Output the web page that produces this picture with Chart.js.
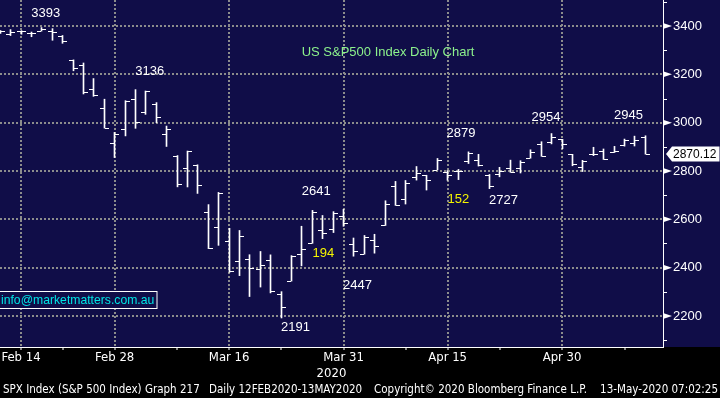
<!DOCTYPE html>
<html>
<head>
<meta charset="utf-8">
<script src="https://cdn.jsdelivr.net/npm/chart.js@4.4.1/dist/chart.umd.min.js"></script>
<style>
  html, body { margin: 0; padding: 0; background: #000; }
</style>
</head>
<body>
<canvas id="spxChart" width="720" height="398"></canvas>
<script>
// SPX daily bars, 12 Feb - 12 May 2020
const dates = [
  "Feb 12", "Feb 13", "Feb 14", "Feb 18", "Feb 19", "Feb 20", "Feb 21", "Feb 24", "Feb 25", "Feb 26", "Feb 27", "Feb 28",
  "Mar 2", "Mar 3", "Mar 4", "Mar 5", "Mar 6", "Mar 9", "Mar 10", "Mar 11", "Mar 12", "Mar 13", "Mar 16", "Mar 17",
  "Mar 18", "Mar 19", "Mar 20", "Mar 23", "Mar 24", "Mar 25", "Mar 26", "Mar 27", "Mar 30", "Mar 31",
  "Apr 1", "Apr 2", "Apr 3", "Apr 6", "Apr 7", "Apr 8", "Apr 9", "Apr 13", "Apr 14", "Apr 15", "Apr 16", "Apr 17",
  "Apr 20", "Apr 21", "Apr 22", "Apr 23", "Apr 24", "Apr 27", "Apr 28", "Apr 29", "Apr 30",
  "May 1", "May 4", "May 5", "May 6", "May 7", "May 8", "May 11", "May 12"
];
const opens = [
  3370.50, 3365.90, 3378.08, 3369.04, 3380.39, 3380.45, 3360.50, 3257.61, 3238.94, 3139.90, 3062.54, 2916.90,
  2974.28, 3096.46, 3045.75, 3075.70, 2954.20, 2863.89, 2813.48, 2825.60, 2630.86, 2569.99, 2508.59, 2425.66,
  2436.50, 2393.48, 2431.94, 2290.71, 2344.44, 2457.77, 2501.29, 2555.87, 2558.98, 2614.69,
  2498.08, 2458.54, 2514.92, 2578.28, 2738.65, 2685.00, 2776.99, 2782.46, 2805.10, 2795.64, 2799.34, 2842.43,
  2845.62, 2784.81, 2787.89, 2810.42, 2812.64, 2854.65, 2909.96, 2918.46, 2930.91,
  2869.09, 2815.01, 2868.88, 2883.14, 2878.26, 2908.83, 2915.46, 2939.50
];
const highs = [
  3381.47, 3385.09, 3380.69, 3375.01, 3393.52, 3389.15, 3360.76, 3259.81, 3246.99, 3182.51, 3097.07, 2959.72,
  3090.96, 3136.72, 3130.97, 3083.04, 2985.93, 2863.89, 2882.59, 2825.60, 2660.95, 2711.33, 2562.98, 2553.93,
  2453.57, 2466.97, 2453.01, 2300.73, 2449.71, 2571.42, 2637.01, 2615.91, 2631.80, 2641.39,
  2522.75, 2533.22, 2538.18, 2676.85, 2756.89, 2760.75, 2818.57, 2782.46, 2851.85, 2801.88, 2806.51, 2879.22,
  2868.98, 2785.54, 2815.10, 2844.90, 2842.71, 2887.72, 2921.15, 2954.86, 2930.91,
  2869.09, 2844.24, 2898.23, 2891.11, 2901.92, 2932.16, 2944.25, 2945.82
];
const lows = [
  3369.72, 3360.52, 3366.15, 3355.61, 3378.83, 3341.02, 3328.45, 3214.65, 3118.77, 3108.99, 2977.39, 2855.84,
  2945.19, 2976.63, 3034.38, 2999.83, 2901.54, 2734.43, 2734.00, 2707.22, 2478.86, 2492.37, 2380.94, 2367.04,
  2280.52, 2319.78, 2295.56, 2191.86, 2344.44, 2407.53, 2500.72, 2520.02, 2545.28, 2571.15,
  2447.49, 2455.79, 2459.96, 2574.57, 2657.67, 2663.30, 2762.36, 2721.17, 2805.10, 2761.54, 2764.32, 2830.88,
  2820.43, 2727.10, 2775.95, 2794.26, 2791.76, 2852.89, 2860.71, 2912.16, 2892.47,
  2821.61, 2797.85, 2863.55, 2847.65, 2876.48, 2902.88, 2903.44, 2869.59
];
const closes = [
  3379.45, 3373.94, 3380.16, 3370.29, 3386.15, 3373.23, 3337.75, 3225.89, 3128.21, 3116.39, 2978.76, 2954.22,
  3090.23, 3003.37, 3130.12, 3023.94, 2972.37, 2746.56, 2882.23, 2741.38, 2480.64, 2711.02, 2386.13, 2529.19,
  2398.10, 2409.39, 2304.92, 2237.40, 2447.33, 2475.56, 2630.07, 2541.47, 2626.65, 2584.59,
  2470.50, 2526.90, 2488.65, 2663.68, 2659.41, 2749.98, 2789.82, 2761.63, 2846.06, 2783.36, 2799.55, 2874.56,
  2823.16, 2736.56, 2799.31, 2797.80, 2836.74, 2878.48, 2863.39, 2939.51, 2912.43,
  2830.71, 2842.74, 2868.44, 2848.42, 2881.19, 2929.80, 2930.32, 2870.12
];

// axis ticks
const yTicks = [2200, 2400, 2600, 2800, 3000, 3200, 3400];
const yMinorTicks = [2100, 2300, 2500, 2700, 2900, 3100, 3300, 3500];
const xTickIdx = [2, 6, 11, 17, 22, 27, 33, 39, 43, 48, 54, 60];
const xLabelIdx = [2, 11, 22, 33, 43, 54];

// hand-placed notes (bar index, price level)
const noteText = ["3393", "3136", "2641", "194", "2447", "2191", "152", "2879", "2727", "2954", "2945"];
const noteAt = [4.38, 14.38, 30.38, 31.06, 34.33, 28.37, 44.04, 44.28, 48.37, 52.45, 60.38];
const noteLevel = [3451, 3210, 2715, 2457, 2328, 2152, 2684, 2957, 2680, 3021, 3028];
const noteYellow = ["194", "152"];

const NAVY = "#100d48";
const GRID = "#8c8c8c";
const NUM_FONT = '13px "Liberation Sans", Arial, sans-serif';
const COND = '"DejaVu Sans Condensed", "DejaVu Sans", sans-serif';

const backdrop = {
  id: "backdrop",
  beforeDraw(chart) {
    const { ctx, width, height, chartArea } = chart;
    ctx.save();
    ctx.fillStyle = "#000";
    ctx.fillRect(0, 0, width, height);
    ctx.fillStyle = NAVY;
    ctx.fillRect(0, 0, width, chartArea.bottom);
    ctx.restore();
  }
};

// snap bars to whole pixels, then add open / close ticks
const ohlcTicks = {
  id: "ohlcTicks",
  afterDatasetsUpdate(chart) {
    chart.getDatasetMeta(0).data.forEach(el => { el.x = Math.floor(el.x) + 0.5; });
  },
  afterDatasetsDraw(chart) {
    const { ctx, chartArea, scales: { y } } = chart;
    const bars = chart.getDatasetMeta(0).data;
    ctx.save();
    ctx.beginPath();
    ctx.rect(chartArea.left, chartArea.top, chartArea.right - chartArea.left, chartArea.bottom - chartArea.top);
    ctx.clip();
    ctx.strokeStyle = "#fff";
    ctx.lineWidth = 1;
    ctx.beginPath();
    opens.forEach((o, i) => {
      const n = Math.floor(bars[i].x);
      const yo = Math.round(y.getPixelForValue(o)) + 0.5;
      const yc = Math.round(y.getPixelForValue(closes[i])) + 0.5;
      ctx.moveTo(n - 4, yo);
      ctx.lineTo(n, yo);
      ctx.moveTo(n + 1, yc);
      ctx.lineTo(n + 5, yc);
    });
    ctx.stroke();
    ctx.restore();
  }
};

const notes = {
  id: "notes",
  afterDraw(chart) {
    const { ctx, chartArea, scales: { x, y } } = chart;
    ctx.save();
    ctx.textAlign = "center";
    ctx.textBaseline = "middle";
    ctx.font = NUM_FONT;
    noteText.forEach((t, k) => {
      ctx.fillStyle = noteYellow.includes(t) ? "#f4f400" : "#fff";
      ctx.fillText(t, x.getPixelForValue(noteAt[k]), y.getPixelForValue(noteLevel[k]));
    });

    // chart title
    ctx.fillStyle = "#8cf28c";
    ctx.fillText("US S&P500 Index Daily Chart", x.getPixelForValue(37.27), y.getPixelForValue(3292));

    // email box
    ctx.fillStyle = NAVY;
    ctx.fillRect(chartArea.left - 1, 291.5, 158, 17);
    ctx.strokeStyle = "#fff";
    ctx.lineWidth = 1;
    ctx.strokeRect(chartArea.left - 1, 291.5, 158, 17);
    ctx.fillStyle = "#00e4e4";
    ctx.textAlign = "left";
    ctx.font = '12.2px "Liberation Sans", Arial, sans-serif';
    ctx.fillText("info@marketmatters.com.au", 1, 300.5);

    // right axis markers
    const ax = chartArea.right;
    ctx.fillStyle = "#fff";
    yTicks.forEach(v => {
      const py = y.getPixelForValue(v);
      ctx.beginPath();
      ctx.moveTo(ax, py - 3);
      ctx.lineTo(ax + 9, py);
      ctx.lineTo(ax, py + 3);
      ctx.closePath();
      ctx.fill();
    });
    ctx.strokeStyle = "#fff";
    ctx.beginPath();
    yMinorTicks.forEach(v => {
      const py = Math.round(y.getPixelForValue(v)) + 0.5;
      ctx.moveTo(ax, py);
      ctx.lineTo(ax + 4, py);
    });
    ctx.stroke();

    // last price tag
    const last = closes[closes.length - 1];
    const ly = y.getPixelForValue(last);
    ctx.beginPath();
    ctx.moveTo(ax + 3, ly);
    ctx.lineTo(ax + 9, ly - 7.5);
    ctx.lineTo(719.5, ly - 7.5);
    ctx.lineTo(719.5, ly + 7.5);
    ctx.lineTo(ax + 9, ly + 7.5);
    ctx.closePath();
    ctx.fillStyle = "#fff";
    ctx.fill();
    ctx.fillStyle = "#000";
    ctx.font = '12px "Liberation Sans", Arial, sans-serif';
    ctx.fillText(last.toFixed(2), ax + 10, ly + 0.5);

    // footer
    ctx.font = "11.5px " + COND;
    ctx.fillStyle = "#fff";
    ctx.fillText("SPX Index (S&P 500 Index) Graph 217", 3, 390.5);
    ctx.fillText("Daily 12FEB2020-13MAY2020", 209, 390.5);
    ctx.fillText("Copyright\u00a9 2020 Bloomberg Finance L.P.", 374, 390.5);
    ctx.textAlign = "right";
    ctx.fillText("13-May-2020 07:02:25", 718, 390.5);
    ctx.restore();
  }
};

const ctx = document.getElementById("spxChart").getContext("2d");

new Chart(ctx, {
  type: "bar",
  data: {
    datasets: [
      {
        label: "SPX",
        data: dates.map((d, i) => ({ x: i, y: [lows[i], highs[i]] })),
        backgroundColor: "#fff",
        borderWidth: 0,
        barThickness: 1,
        grouped: false
      }
    ]
  },
  options: {
    responsive: false,
    devicePixelRatio: 1,
    animation: false,
    layout: { padding: 0 },
    plugins: {
      legend: { display: false },
      tooltip: { enabled: false }
    },
    scales: {
      x: {
        type: "linear",
        min: -0.02,
        max: 63.7,
        offset: false,
        afterBuildTicks: s => { s.ticks = xTickIdx.map(v => ({ value: v })); },
        afterFit: s => { s.height = 51; s.paddingLeft = 0; s.paddingRight = 0; },
        grid: {
          offset: false,
          color: c => (c.tick && xLabelIdx.includes(c.tick.value) ? GRID : "rgba(0,0,0,0)"),
          lineWidth: 2,
          tickColor: "#fff",
          tickWidth: 1,
          tickLength: 3
        },
        border: { color: "#fff", width: 1, dash: [2, 2] },
        ticks: {
          color: "#fff",
          font: { family: COND, size: 13 },
          padding: 0,
          maxRotation: 0,
          autoSkip: false,
          callback: v => (xLabelIdx.includes(v) ? dates[v] : "")
        },
        title: {
          display: true,
          text: "2020",
          color: "#fff",
          font: { family: COND, size: 13 },
          padding: { top: 0, bottom: 17 }
        }
      },
      y: {
        type: "linear",
        position: "right",
        min: 2071.7,
        max: 3507.6,
        afterBuildTicks: s => { s.ticks = yTicks.map(v => ({ value: v })); },
        afterFit: s => { s.width = 57; s.paddingTop = 0; s.paddingBottom = 0; },
        grid: { color: GRID, lineWidth: 2, drawTicks: false },
        border: { color: "#fff", width: 1, dash: [2, 2] },
        ticks: {
          color: "#fff",
          font: { family: '"Liberation Sans", Arial, sans-serif', size: 13 },
          padding: 10,
          callback: v => String(v)
        }
      }
    }
  },
  plugins: [backdrop, ohlcTicks, notes]
});
</script>
</body>
</html>
